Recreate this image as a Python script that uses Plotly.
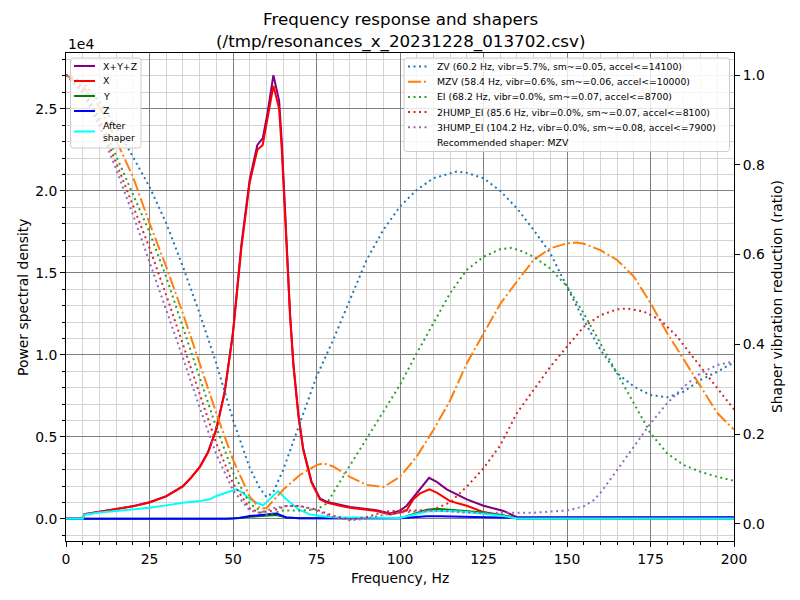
import plotly.graph_objects as go

# ---------------- PSD data (Power spectral density, raw units) ----------------
f_xyz = [0, 5, 5.5, 10, 15, 20, 25, 30, 35, 37.5, 40, 42.5, 45, 47.5, 50, 52.5, 55, 57.3, 58.9, 60.3,
         62.1, 63.8, 64.6, 66.1, 67.1, 68.1, 69.6, 71, 73.5, 76, 78, 82, 85, 90, 93, 97, 100, 102, 105,
         108.7, 111, 114, 120, 125, 131, 134, 135, 200]
psd_xyz = [0, 0, 280, 420, 590, 770, 1010, 1380, 1990, 2530, 3150, 4060, 5470, 7740, 11400, 16700, 20700,
           22800, 23200, 24700, 27050, 25500, 23000, 16600, 12450, 9420, 6350, 4300, 2270, 1250, 1050,
           860, 720, 600, 520, 330, 500, 800, 1590, 2500, 2250, 1800, 1190, 800, 480, 200, 100, 100]

f_x = [0, 5, 5.5, 10, 15, 20, 25, 30, 35, 37.5, 40, 42.5, 45, 47.5, 50, 52.5, 55, 57.3, 58.9, 60.3, 62.1,
       63.8, 64.6, 66.1, 67.1, 68.1, 69.6, 71, 73.5, 76, 78, 82, 85, 90, 93, 97, 100, 102, 104, 106,
       108.8, 111, 115, 120, 125, 131, 134, 135, 200]
psd_x = [0, 0, 270, 410, 580, 760, 1000, 1370, 1980, 2520, 3130, 4040, 5440, 7700, 11300, 16500, 20500,
         22500, 22800, 24300, 26400, 25000, 22500, 16400, 12300, 9300, 6250, 4230, 2210, 1190, 990,
         800, 680, 560, 480, 270, 390, 520, 1190, 1550, 1800, 1600, 1080, 800, 410, 210, 50, 30, 30]

f_y = [0, 5, 5.5, 50, 55, 60, 63, 66, 70, 100, 104, 108, 111, 115, 120, 125, 131, 135, 200]
psd_y = [0, 0, 20, 20, 120, 180, 230, 80, 30, 30, 300, 560, 620, 560, 470, 380, 200, 20, 20]

f_z = [0, 5, 5.5, 48, 52, 55, 60, 63, 66, 70, 100, 104, 108, 112, 120, 131, 134, 200]
psd_z = [0, 0, 10, 10, 50, 170, 260, 330, 80, 30, 30, 100, 150, 150, 120, 100, 60, 80]

f_after = [0, 5, 5.5, 10, 15, 20, 25, 30, 35, 40, 43, 45, 48, 51, 53, 55, 57.5, 59, 61, 63.5, 66, 69.6,
           73, 76, 80, 90, 100, 104, 108, 112, 115, 120, 125, 131, 135, 200]
psd_after = [0, 0, 250, 380, 470, 560, 680, 820, 985, 1080, 1190, 1390, 1590, 1800, 1590, 1200, 950,
             820, 1200, 1690, 1190, 580, 270, 170, 100, 60, 50, 250, 450, 480, 480, 420, 320, 170, 20, 20]

# ---------------- Shaper vibration reduction ratios ----------------
f_zv = [0, 5, 10, 15, 20, 25, 30, 35, 40, 45, 50, 55, 58, 60, 62, 65, 70, 75, 80, 85, 90, 95, 100, 105,
        110, 117, 120, 125, 130, 135, 140, 145, 150, 155, 160, 165, 170, 175, 180, 185, 190, 195, 200]
r_zv = [1.0, 0.985, 0.94, 0.885, 0.818, 0.751, 0.67, 0.573, 0.469, 0.358, 0.232, 0.125, 0.08, 0.06, 0.07,
        0.12, 0.224, 0.328, 0.41, 0.499, 0.588, 0.655, 0.707, 0.744, 0.77, 0.785, 0.782, 0.77, 0.742,
        0.703, 0.655, 0.603, 0.529, 0.454, 0.388, 0.336, 0.306, 0.287, 0.282, 0.295, 0.321, 0.339, 0.36]

f_mzv = [0, 5, 10, 15, 20, 25, 30, 35, 40, 45, 50, 55, 58, 60, 65, 70, 75, 77, 80, 85, 90, 95, 100, 105,
         110, 115, 120, 125, 130, 135, 140, 145, 150, 153, 155, 160, 165, 170, 175, 180, 185, 190, 195, 200]
r_mzv = [1.0, 0.975, 0.929, 0.855, 0.774, 0.67, 0.573, 0.469, 0.358, 0.247, 0.143, 0.061, 0.035, 0.035,
         0.076, 0.109, 0.131, 0.135, 0.128, 0.105, 0.087, 0.082, 0.105, 0.15, 0.209, 0.275, 0.358, 0.425,
         0.49, 0.54, 0.588, 0.614, 0.625, 0.627, 0.624, 0.61, 0.588, 0.551, 0.492, 0.425, 0.365, 0.306,
         0.247, 0.21]

f_ei = [0, 5, 10, 15, 20, 25, 30, 35, 40, 45, 50, 55, 60, 65, 70, 75, 78, 80, 85, 90, 95, 100, 105, 110,
        115, 120, 125, 130, 133.5, 137, 140, 145, 150, 155, 160, 165, 170, 175, 180, 185, 190, 195, 200]
r_ei = [1.0, 0.97, 0.905, 0.82, 0.735, 0.65, 0.55, 0.44, 0.325, 0.215, 0.115, 0.045, 0.02, 0.03, 0.03,
        0.032, 0.045, 0.07, 0.13, 0.19, 0.25, 0.31, 0.38, 0.447, 0.514, 0.566, 0.595, 0.612, 0.615, 0.606,
        0.595, 0.569, 0.529, 0.469, 0.402, 0.336, 0.269, 0.202, 0.157, 0.131, 0.116, 0.105, 0.096]

f_2hump = [0, 5, 10, 15, 20, 25, 30, 35, 40, 45, 50, 55, 58, 62, 66, 70, 75, 80, 85, 90, 95, 100, 105,
           110, 115, 120, 125, 130, 135, 140, 145, 150, 155, 160, 165, 168, 173, 178, 183, 188, 193, 200]
r_2hump = [1.0, 0.965, 0.895, 0.805, 0.71, 0.615, 0.51, 0.4, 0.29, 0.18, 0.09, 0.035, 0.025, 0.03, 0.04,
           0.04, 0.032, 0.018, 0.01, 0.015, 0.027, 0.03, 0.03, 0.032, 0.048, 0.083, 0.124, 0.175, 0.247,
           0.298, 0.35, 0.395, 0.439, 0.465, 0.478, 0.48, 0.473, 0.454, 0.417, 0.369, 0.321, 0.255]

f_3hump = [0, 5, 10, 15, 20, 25, 30, 35, 40, 45, 50, 55, 58, 62, 66, 70, 75, 80, 85, 90, 95, 100, 105,
           110, 115, 120, 130, 140, 150, 155, 158, 160, 165, 170, 175, 180, 185, 190, 195, 200]
r_3hump = [1.0, 0.96, 0.885, 0.79, 0.69, 0.585, 0.48, 0.37, 0.26, 0.155, 0.075, 0.03, 0.025, 0.035, 0.04,
           0.04, 0.03, 0.015, 0.008, 0.012, 0.02, 0.025, 0.028, 0.03, 0.028, 0.025, 0.025, 0.025, 0.03,
           0.039, 0.053, 0.069, 0.12, 0.172, 0.224, 0.269, 0.306, 0.336, 0.354, 0.362]

psd_labels = ["X+Y+Z", "X", "Y", "Z", "After<br>shaper"]
shaper_labels = [
    "ZV (60.2 Hz, vibr=5.7%, sm~=0.05, accel<=14100)",
    "MZV (58.4 Hz, vibr=0.6%, sm~=0.06, accel<=10000)",
    "EI (68.2 Hz, vibr=0.0%, sm~=0.07, accel<=8700)",
    "2HUMP_EI (85.6 Hz, vibr=0.0%, sm~=0.07, accel<=8100)",
    "3HUMP_EI (104.2 Hz, vibr=0.0%, sm~=0.08, accel<=7900)",
]
recommended = "Recommended shaper: MZV"

left_tickvals = [0, 5000, 10000, 15000, 20000, 25000]
left_ticktext = ["0.0", "0.5", "1.0", "1.5", "2.0", "2.5"]

FONT = "DejaVu Sans"
LEG_FONT = 9.3
fig = go.Figure()

psd_colors = ["purple", "red", "green", "blue", "cyan"]
psd_series = [(f_xyz, psd_xyz), (f_x, psd_x), (f_y, psd_y), (f_z, psd_z), (f_after, psd_after)]
for name, (fx, fy), col in zip(psd_labels, psd_series, psd_colors):
    fig.add_trace(go.Scatter(x=fx, y=fy, name=name.replace("<br>", " "), mode="lines",
                             line=dict(color=col, width=2), showlegend=False))

dot = "2px,3.5px"
dashdot = "13px,3px,2px,3px"
shaper_colors = ["#1f77b4", "#ff7f0e", "#2ca02c", "#d62728", "#9467bd"]
shaper_dashes = [dot, dashdot, dot, dot, dot]
shaper_series = [(f_zv, r_zv), (f_mzv, r_mzv), (f_ei, r_ei), (f_2hump, r_2hump), (f_3hump, r_3hump)]
for lbl, (fx, fy), col, dsh in zip(shaper_labels, shaper_series, shaper_colors, shaper_dashes):
    fig.add_trace(go.Scatter(x=fx, y=fy, name=lbl, mode="lines", yaxis="y2",
                             line=dict(color=col, width=2, dash=dsh), showlegend=False))

axis_common = dict(showline=True, linecolor="black", linewidth=1, ticks="outside", ticklen=5,
                   tickcolor="black", tickfont=dict(family=FONT, size=13.9, color="black"),
                   zeroline=False)

fig.update_layout(
    width=800, height=600,
    margin=dict(l=66, r=66, t=53, b=59),
    plot_bgcolor="white", paper_bgcolor="white",
    font=dict(family=FONT, color="black"),
    showlegend=False,
    xaxis=dict(range=[0, 200], dtick=25, tick0=0, showgrid=True, gridcolor="grey", gridwidth=1,
               mirror=True,
               minor=dict(dtick=5, tick0=0, showgrid=True, gridcolor="lightgrey", ticks="outside",
                          ticklen=3, tickcolor="black"),
               **axis_common),
    yaxis=dict(range=[-1352, 28402], tickmode="array", tickvals=left_tickvals, ticktext=left_ticktext,
               showgrid=True, gridcolor="grey", gridwidth=1,
               minor=dict(tickmode="linear", dtick=1000, tick0=0, showgrid=True, gridcolor="lightgrey",
                          ticks="outside", ticklen=3, tickcolor="black"),
               **axis_common),
    yaxis2=dict(range=[-0.038, 1.049], overlaying="y", side="right", dtick=0.2, tick0=0,
                tickformat=".1f", showgrid=False, **axis_common),
)

# pixel -> paper coordinate helpers (plot area: x 66..734, y 53..541)
def py(pix):
    return 1 + (53 - pix) / 488.0

def px(pix):
    return (pix - 66) / 668.0

def rounded_box(x0, y0, x1, y1, r=3):
    pts = [
        f"M {px(x0 + r)},{py(y0)}", f"L {px(x1 - r)},{py(y0)}",
        f"Q {px(x1)},{py(y0)} {px(x1)},{py(y0 + r)}", f"L {px(x1)},{py(y1 - r)}",
        f"Q {px(x1)},{py(y1)} {px(x1 - r)},{py(y1)}", f"L {px(x0 + r)},{py(y1)}",
        f"Q {px(x0)},{py(y1)} {px(x0)},{py(y1 - r)}", f"L {px(x0)},{py(y0 + r)}",
        f"Q {px(x0)},{py(y0)} {px(x0 + r)},{py(y0)}", "Z",
    ]
    return dict(type="path", path=" ".join(pts), xref="paper", yref="paper", layer="above",
                fillcolor="rgba(255,255,255,0.8)", line=dict(color="#cccccc", width=1))

def legend_text(text, xpix, ypix):
    fig.add_annotation(text=text, x=px(xpix), y=py(ypix), xref="paper", yref="paper",
                       xanchor="left", yanchor="middle", showarrow=False, align="left",
                       font=dict(family=FONT, size=LEG_FONT, color="black"))

shapes = []
# ---- left legend (PSD) ----
shapes.append(rounded_box(70.5, 58, 141, 148))
left_rows = [66, 81, 96, 111, 131.5]
for lbl, col, yy in zip(psd_labels, psd_colors, left_rows):
    shapes.append(dict(type="line", xref="paper", yref="paper", layer="above",
                       x0=px(74), x1=px(95), y0=py(yy), y1=py(yy), line=dict(color=col, width=2)))
    legend_text(lbl, 101, yy)

# ---- right legend (shapers) ----
shapes.append(rounded_box(404, 58, 729.5, 151.5))
right_rows = [66.5, 81.7, 96.9, 112.1, 127.3, 142.5]
for lbl, col, dsh, yy in zip(shaper_labels, shaper_colors, shaper_dashes, right_rows):
    shapes.append(dict(type="line", xref="paper", yref="paper", layer="above",
                       x0=px(408), x1=px(429), y0=py(yy), y1=py(yy),
                       line=dict(color=col, width=2, dash=dsh)))
    legend_text(lbl, 435, yy)
legend_text(recommended, 435, right_rows[5])
fig.update_layout(shapes=shapes)

annos = [
    dict(text="Frequency response and shapers<br>(/tmp/resonances_x_20231228_013702.csv)",
         x=0.5, y=py(31), size=16.7, angle=0),
    dict(text="Frequency, Hz", x=0.5, y=py(578), size=13.9, angle=0),
    dict(text="Power spectral density", x=px(23), y=0.5, size=13.9, angle=-90),
    dict(text="Shaper vibration reduction (ratio)", x=px(777), y=0.5, size=13.9, angle=-90),
]
for a in annos:
    fig.add_annotation(text=a["text"], x=a["x"], y=a["y"], xref="paper", yref="paper",
                       xanchor="center", yanchor="middle", showarrow=False, textangle=a["angle"],
                       font=dict(family=FONT, size=a["size"], color="black"))
fig.add_annotation(text="1e4", x=0, y=py(44), xref="paper", yref="paper", xanchor="left",
                   yanchor="middle", showarrow=False, font=dict(family=FONT, size=13.9, color="black"))

fig.write_html("out.html")
